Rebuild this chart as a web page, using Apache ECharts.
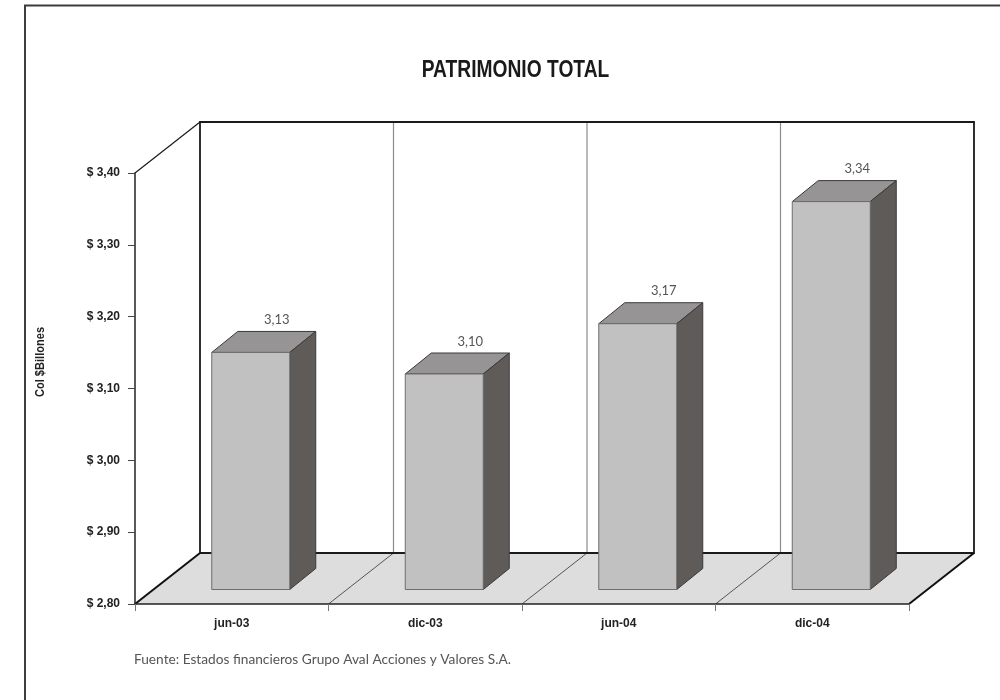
<!DOCTYPE html>
<html>
<head>
<meta charset="utf-8">
<style>html,body{margin:0;padding:0;background:#fff}#c{width:1000px;height:700px}</style>
<script src="https://cdn.jsdelivr.net/npm/echarts@6/dist/echarts.min.js"></script>
</head>
<body>
<div id="c"></div>
<script>
var categories = ['jun-03', 'dic-03', 'jun-04', 'dic-04'];
var values = [3.13, 3.10, 3.17, 3.34];
var valueLabels = ['3,13', '3,10', '3,17', '3,34'];
var titleText = 'PATRIMONIO TOTAL';
var axisTitle = 'Col $Billones';
var sourceText = 'Fuente: Estados financieros Grupo Aval Acciones y Valores S.A.';

var NARROW = '"Liberation Sans",sans-serif';
var GEO = 'Lato,"Open Sans",sans-serif';
var DX = 65, DY = -51;         // full depth of the box
var BAR_DX = 19, BAR_DY = -14.5; // bar front inset in depth
var BAR_W = 78, BAR_SX = 26, BAR_SY = -21; // bar width and own depth

function renderFrame(params, api) {
  var cs = params.coordSys;
  var x0 = cs.x, x1 = cs.x + cs.width, yT = cs.y, yB = cs.y + cs.height;
  var step = cs.width / categories.length;
  var ch = [];
  ch.push({type: 'polygon', shape: {points: [[x0, yB], [x1, yB], [x1 + DX, yB + DY], [x0 + DX, yB + DY]]},
    style: {fill: '#dddddd', stroke: null}});
  for (var i = 1; i < categories.length; i++) {
    var x = x0 + step * i;
    ch.push({type: 'line', shape: {x1: x, y1: yB, x2: x + DX, y2: yB + DY},
      style: {stroke: '#555', lineWidth: 1}});
    ch.push({type: 'line', shape: {x1: x + DX, y1: yB + DY, x2: x + DX, y2: yT + DY},
      style: {stroke: '#8c8c8c', lineWidth: 1.2}});
  }
  ch.push({type: 'polyline', shape: {points: [[x0 + DX, yB + DY], [x0 + DX, yT + DY], [x1 + DX, yT + DY], [x1 + DX, yB + DY], [x0 + DX, yB + DY]]},
    style: {fill: null, stroke: '#1a1a1a', lineWidth: 1.8}});
  ch.push({type: 'line', shape: {x1: x0, y1: yT, x2: x0 + DX, y2: yT + DY}, style: {stroke: '#1a1a1a', lineWidth: 1.2}});
  ch.push({type: 'line', shape: {x1: x0, y1: yB, x2: x0 + DX, y2: yB + DY}, style: {stroke: '#111', lineWidth: 2}});
  ch.push({type: 'line', shape: {x1: x1, y1: yB, x2: x1 + DX, y2: yB + DY}, style: {stroke: '#111', lineWidth: 2}});
  return {type: 'group', children: ch};
}

function renderBar(params, api) {
  var top = api.coord([api.value(0), api.value(1)]);
  var base = api.coord([api.value(0), 2.8]);
  var l = top[0] - BAR_W / 2 + BAR_DX, r = l + BAR_W;
  var t = top[1] + BAR_DY, b = base[1] + BAR_DY;
  return {type: 'group', children: [
    {type: 'polygon', shape: {points: [[l, t], [r, t], [r + BAR_SX, t + BAR_SY], [l + BAR_SX, t + BAR_SY]]},
      style: {fill: '#969494', stroke: '#3a3a3a', lineWidth: 1}},
    {type: 'polygon', shape: {points: [[r, t], [r + BAR_SX, t + BAR_SY], [r + BAR_SX, b + BAR_SY], [r, b]]},
      style: {fill: '#5f5b59', stroke: '#3a3a3a', lineWidth: 1}},
    {type: 'rect', shape: {x: l, y: t, width: BAR_W, height: b - t},
      style: {fill: '#c1c1c1', stroke: '#6e6e6e', lineWidth: 1}},
    {type: 'text', style: {x: l + BAR_W / 2 + 26, y: t - 32.5, text: valueLabels[params.dataIndex],
      align: 'center', verticalAlign: 'middle', fill: '#555', font: '13px ' + GEO}}
  ]};
}

var chart = echarts.init(document.getElementById('c'), null, {renderer: 'canvas'});
chart.setOption({
  animation: false,
  backgroundColor: '#fff',
  title: [
    {text: sourceText, left: 134, top: 653, padding: 0,
      textStyle: {fontFamily: GEO, fontWeight: 'normal', fontSize: 13.7, color: '#555'}}
  ],
  grid: {left: 135, right: 91, top: 173, height: 431, containLabel: false},
  xAxis: {
    type: 'category', data: categories, z: 5,
    axisLine: {show: true, lineStyle: {color: '#222', width: 1.5}},
    axisTick: {show: true, length: 7, lineStyle: {color: '#777', width: 1}},
    axisLabel: {fontFamily: NARROW, fontWeight: 'bold', fontSize: 12, color: '#222', margin: 13.5},
    splitLine: {show: false}
  },
  yAxis: {
    type: 'value', min: 2.8, max: 3.4, interval: 0.1, z: 5,
    axisLine: {show: true, lineStyle: {color: '#222', width: 1.5}},
    axisTick: {show: true, length: 7, lineStyle: {color: '#444', width: 1}},
    axisLabel: {fontFamily: NARROW, fontWeight: 'bold', fontSize: 12, color: '#222', margin: 15,
      padding: [2, 0, 0, 0],
      formatter: function (v) { return '$ ' + v.toFixed(2).replace('.', ','); }},
    splitLine: {show: false}
  },
  series: [
    {type: 'custom', name: 'frame', renderItem: renderFrame, data: [[0, 2.8]], z: 1, silent: true, clip: false},
    {type: 'custom', name: 'Patrimonio', renderItem: renderBar, z: 3, clip: false,
      encode: {x: 0, y: 1},
      data: values.map(function (v, i) { return [i, v]; })}
  ],
  graphic: [
    {type: 'polyline', z: 10, shape: {points: [[25, 700], [25, 5.5], [1000, 5.5]]},
      style: {fill: null, stroke: '#3d3d3d', lineWidth: 2}},
    {type: 'text', z: 10, x: 515.5, y: 71, scaleX: 0.836,
      style: {text: titleText, align: 'center', verticalAlign: 'middle', fill: '#1a1a1a',
        font: 'bold 23px ' + NARROW}},
    {type: 'text', z: 10, x: 40, y: 362, rotation: Math.PI / 2, scaleX: 0.82,
      style: {text: axisTitle, align: 'center', verticalAlign: 'middle', fill: '#222',
        font: 'bold 13.5px ' + NARROW}}
  ]
});
</script>
</body>
</html>
